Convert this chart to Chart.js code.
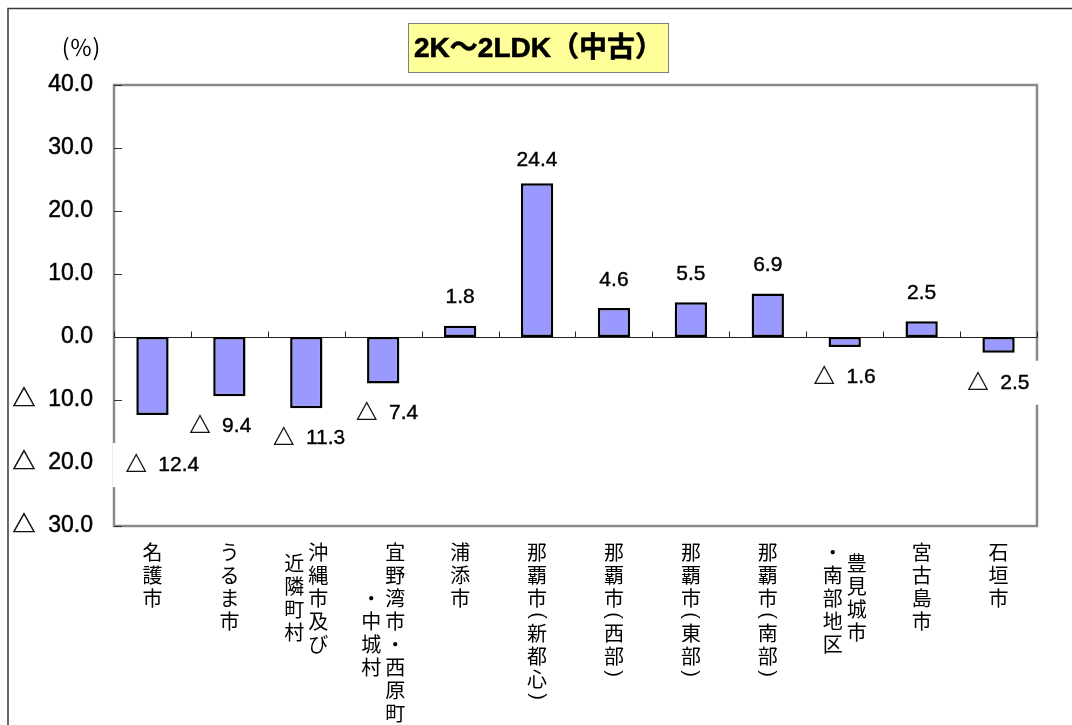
<!DOCTYPE html>
<html>
<head>
<meta charset="utf-8">
<title>2K～2LDK（中古）</title>
<script src="https://cdn.jsdelivr.net/npm/chart.js@4.4.0/dist/chart.umd.min.js"></script>
<style>
  html, body { margin: 0; padding: 0; background: #fff; }
  canvas { display: block; }
</style>
</head>
<body>
<canvas id="chart" width="1072" height="725"></canvas>
<script>
// ---- data ----
const chartTitle = '2K～2LDK（中古）';
const unitLabel = '(％)';
// each area name as vertical columns, read right to left
const categories = [
  ['名護市'],
  ['うるま市'],
  ['沖縄市及び', '近隣町村'],
  ['宜野湾市・西原町', '・中城村'],
  ['浦添市'],
  ['那覇市（新都心）'],
  ['那覇市（西部）'],
  ['那覇市（東部）'],
  ['那覇市（南部）'],
  ['豊見城市', '・南部地区'],
  ['宮古島市'],
  ['石垣市']
];
const changeRates = [-12.4, -9.4, -11.3, -7.4, 1.8, 24.4, 4.6, 5.5, 6.9, -1.6, 2.5, -2.5];
const yMin = -30, yMax = 40, yStep = 10;

// ---- styling ----
const NUM_FONT = "'Liberation Sans', 'Noto Sans CJK JP', sans-serif";
const JP_FONT = "'Noto Sans CJK JP', 'Liberation Sans', sans-serif";
const BAR_FILL = '#9999FF';

// negative values are written with a leading triangle
const fmt = v => v < 0 ? '△  ' + Math.abs(v).toFixed(1) : v.toFixed(1);

// small hand nudges for a few value labels [dx, dy]
const labelNudge = { 0: [10, 20], 1: [-9, 0], 2: [3, 0], 3: [4, 0], 5: [0, 5] };

const decor = {
  id: 'decor',
  beforeDraw(chart) {
    const ctx = chart.ctx;
    ctx.save();
    ctx.fillStyle = '#fff';
    ctx.fillRect(0, 0, chart.width, chart.height);

    // outer frame
    ctx.strokeStyle = '#3a3a3a';
    ctx.lineWidth = 1.5;
    ctx.beginPath();
    ctx.moveTo(8, chart.height + 5);
    ctx.lineTo(8, 8.5);
    ctx.lineTo(chart.width + 5, 8.5);
    ctx.stroke();

    // title box
    ctx.fillStyle = '#FFFF99';
    ctx.fillRect(408, 23, 261, 50);
    ctx.strokeStyle = '#7f7f7f';
    ctx.lineWidth = 1;
    ctx.strokeRect(408.5, 23.5, 260, 49);
    ctx.fillStyle = '#000';
    ctx.strokeStyle = '#000';
    ctx.lineWidth = 0.6;
    ctx.font = "bold 28px " + NUM_FONT;
    ctx.textAlign = 'center';
    ctx.textBaseline = 'middle';
    ctx.fillText(chartTitle, 538.5, 49);
    ctx.strokeText(chartTitle, 538.5, 49);

    // unit label
    ctx.font = "23px " + JP_FONT;
    ctx.fillText(unitLabel, 81, 47);
    ctx.restore();
  },
  beforeDatasetsDraw(chart) {
    const ctx = chart.ctx;
    const { left, right, top, bottom } = chart.chartArea;
    const x = chart.scales.x, y = chart.scales.y;
    ctx.save();

    // plot frame
    ctx.strokeStyle = '#8a8a8a';
    ctx.lineWidth = 2.5;
    ctx.strokeRect(left, top, right - left, bottom - top);

    // inward y tick marks
    ctx.strokeStyle = '#333';
    ctx.lineWidth = 1;
    y.ticks.forEach(t => {
      const py = Math.round(y.getPixelForValue(t.value)) + 0.5;
      ctx.beginPath();
      ctx.moveTo(left, py);
      ctx.lineTo(left + 8, py);
      ctx.stroke();
    });

    // zero line with category boundary ticks
    const y0 = Math.round(y.getPixelForValue(0)) + 0.5;
    ctx.strokeStyle = '#222';
    ctx.beginPath();
    ctx.moveTo(left, y0);
    ctx.lineTo(right, y0);
    ctx.stroke();
    const n = categories.length;
    const step = x.getPixelForTick(1) - x.getPixelForTick(0);
    for (let i = 0; i <= n; i++) {
      const bx = Math.round(x.getPixelForTick(Math.min(i, n - 1)) + (i < n ? -step / 2 : step / 2)) + 0.5;
      ctx.beginPath();
      ctx.moveTo(bx, y0);
      ctx.lineTo(bx, y0 - 6);
      ctx.stroke();
    }
    ctx.restore();
  },
  afterDatasetsDraw(chart) {
    const ctx = chart.ctx;
    const meta = chart.getDatasetMeta(0);
    const xs = chart.scales.x;
    ctx.save();

    // value labels
    ctx.font = "21px " + NUM_FONT;
    ctx.textAlign = 'center';
    ctx.textBaseline = 'middle';
    ctx.strokeStyle = '#000';
    ctx.lineWidth = 0.4;
    changeRates.forEach((v, i) => {
      const bar = meta.data[i];
      const nudge = labelNudge[i] || [0, 0];
      const text = fmt(v);
      const lx = bar.x + nudge[0];
      const ly = (v >= 0 ? bar.y - 28 : bar.y + 30) + nudge[1];
      if (v < 0) {
        const w = ctx.measureText(text).width + 26;
        ctx.fillStyle = '#fff';
        ctx.fillRect(lx - w / 2, ly - 22, w, 44);
      }
      ctx.fillStyle = '#000';
      ctx.fillText(text, lx, ly);
      ctx.strokeText(text, lx, ly);
    });

    // vertical category names below the plot
    const pitch = 23, half = 12, colGap = 24, firstCenter = 552;
    const isParen = ch => ch === '（' || ch === '）';
    const adv = ch => isParen(ch) ? half : pitch;
    ctx.textAlign = 'center';
    ctx.textBaseline = 'middle';
    ctx.fillStyle = '#000';
    categories.forEach((cols, i) => {
      const cx = xs.getPixelForTick(i);
      const heights = cols.map(c => [...c].reduce((s, ch) => s + adv(ch), 0));
      const H = Math.max(...heights);
      cols.forEach((col, j) => {
        const colX = cx + (cols.length - 1) / 2 * colGap - j * colGap;
        let cur = firstCenter - pitch / 2 + (H - heights[j]) / 2;
        [...col].forEach(ch => {
          const a = adv(ch);
          const cy = cur + a / 2;
          if (isParen(ch)) {
            // brackets turn sideways in vertical writing
            ctx.save();
            ctx.translate(colX, cy);
            ctx.rotate(Math.PI / 2);
            ctx.font = "20px " + NUM_FONT;
            ctx.fillText(ch === '（' ? '(' : ')', 0, 0);
            ctx.restore();
          } else {
            ctx.font = "20px " + JP_FONT;
            ctx.fillText(ch, colX, cy);
          }
          cur += a;
        });
      });
    });
    ctx.restore();
  }
};

new Chart(document.getElementById('chart'), {
  type: 'bar',
  data: {
    labels: categories.map(c => c.join('')),
    datasets: [{
      data: changeRates,
      backgroundColor: BAR_FILL,
      borderColor: '#000',
      borderWidth: 2.5,
      borderSkipped: false,
      barPercentage: 0.42,
      categoryPercentage: 1.0
    }]
  },
  options: {
    responsive: false,
    devicePixelRatio: 1,
    animation: false,
    layout: { padding: { top: 85, right: 35, left: 0, bottom: 0 } },
    plugins: {
      legend: { display: false },
      title: { display: false },
      tooltip: { enabled: false }
    },
    scales: {
      x: {
        grid: { display: false, drawTicks: false },
        border: { display: false },
        ticks: { display: false },
        afterFit(scale) { scale.height = 199; }
      },
      y: {
        min: yMin,
        max: yMax,
        grid: { display: false, drawTicks: false },
        border: { display: false },
        ticks: {
          stepSize: yStep,
          padding: 21,
          color: '#000',
          textStrokeColor: '#000',
          textStrokeWidth: 0.5,
          font: { family: NUM_FONT, size: 23 },
          callback: v => fmt(v)
        },
        afterFit(scale) { scale.width = 114; }
      }
    }
  },
  plugins: [decor]
});
</script>
</body>
</html>
